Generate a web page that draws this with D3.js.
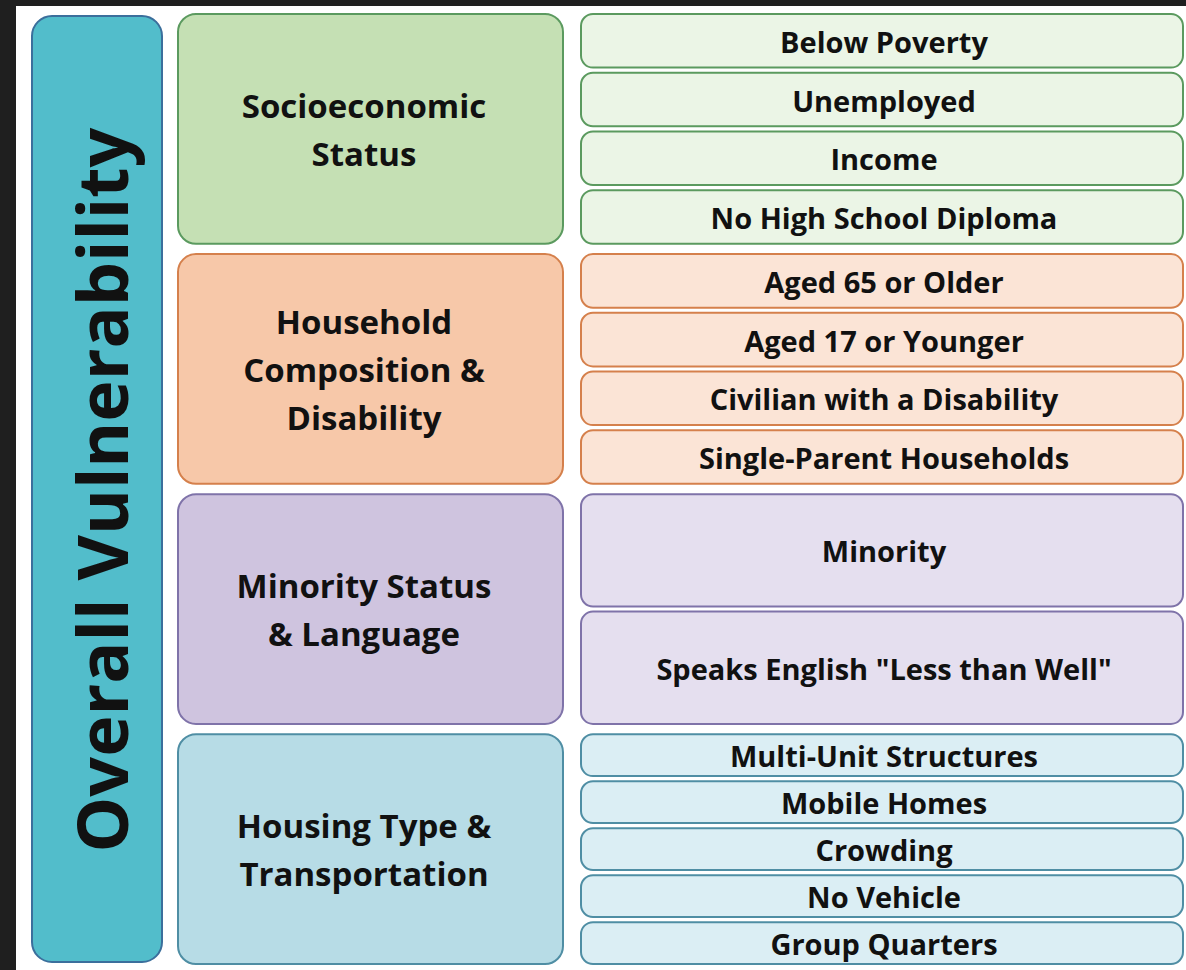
<!DOCTYPE html>
<html>
<head>
<meta charset="utf-8">
<script src="https://cdn.jsdelivr.net/npm/d3@7"></script>
<style>
  html, body { margin: 0; padding: 0; background: #1f1f1f; }
  svg { display: block; }
  text { font-family: "Open Sans", Lato, sans-serif; font-weight: 700; fill: #111; }
</style>
</head>
<body>
<svg id="chart" width="1186" height="970"></svg>
<script>
var title = "Overall Vulnerability"

var groups = [
    ["Socioeconomic", "Status"],
    ["Household", "Composition &", "Disability"],
    ["Minority Status", "& Language"],
    ["Housing Type &", "Transportation"]
]

var socioeconomic = ["Below Poverty", "Unemployed", "Income", "No High School Diploma"]
var household = ["Aged 65 or Older", "Aged 17 or Younger", "Civilian with a Disability", "Single-Parent Households"]
var minority = ["Minority", "Speaks English \"Less than Well\""]
var housing = ["Multi-Unit Structures", "Mobile Homes", "Crowding", "No Vehicle", "Group Quarters"]

var items = [socioeconomic, household, minority, housing]

// fill / stroke for group box, then fill for the item boxes
var palette = [
    {fill: "#c5e0b4", stroke: "#5b9a5f", light: "#ebf5e6"},
    {fill: "#f7c8a9", stroke: "#d5804c", light: "#fbe4d6"},
    {fill: "#cfc4df", stroke: "#7f73a9", light: "#e5dfef"},
    {fill: "#b7dce6", stroke: "#4f8ea4", light: "#dbeef4"}
]

var svg = d3.select("#chart")

svg.append("rect")
    .attr("x", 16).attr("y", 6)
    .attr("width", 1186 - 16).attr("height", 970 - 6)
    .attr("fill", "#ffffff")

var y = d3.scaleBand()
    .domain(d3.range(groups.length))
    .range([14, 964])
    .paddingInner(0.043)

// left title box
svg.append("rect")
    .attr("x", 32).attr("y", 16)
    .attr("width", 130).attr("height", 946)
    .attr("rx", 20)
    .attr("fill", "#52bdcb")
    .attr("stroke", "#3b6f9c")
    .attr("stroke-width", 2)

svg.append("text")
    .attr("transform", "translate(128,490) rotate(-90)")
    .attr("text-anchor", "middle")
    .attr("font-size", 70)
    .text(title)

var lineH = 48

var g = svg.selectAll("g.group")
    .data(groups)
    .enter().append("g")
    .attr("class", "group")

g.append("rect")
    .attr("x", 178).attr("y", (d, i) => y(i))
    .attr("width", 385).attr("height", y.bandwidth())
    .attr("rx", 18)
    .attr("fill", (d, i) => palette[i].fill)
    .attr("stroke", (d, i) => palette[i].stroke)
    .attr("stroke-width", 2)

g.each(function(lines, i) {
    var cy = y(i) + y.bandwidth() / 2
    var t = d3.select(this).append("text")
        .attr("text-anchor", "middle")
        .attr("font-size", 33)
    lines.forEach((ln, k) => {
        t.append("tspan")
            .attr("x", 364)
            .attr("y", cy + (k - (lines.length - 1) / 2) * lineH + 13)
            .text(ln)
    })

    var gap = 5
    var sub = d3.scaleBand()
        .domain(d3.range(items[i].length))
        .range([y(i), y(i) + y.bandwidth()])
    var step = y.bandwidth() / items[i].length
    sub.paddingInner(gap / step)

    var cell = d3.select(this).selectAll("g.item")
        .data(items[i])
        .enter().append("g")
        .attr("class", "item")

    cell.append("rect")
        .attr("x", 581).attr("y", (d, k) => sub(k))
        .attr("width", 602).attr("height", sub.bandwidth())
        .attr("rx", 12)
        .attr("fill", palette[i].light)
        .attr("stroke", palette[i].stroke)
        .attr("stroke-width", 2)

    cell.append("text")
        .attr("x", 884)
        .attr("y", (d, k) => sub(k) + sub.bandwidth() / 2 + 12)
        .attr("text-anchor", "middle")
        .attr("font-size", 29)
        .text(d => d)
})
</script>
</body>
</html>
